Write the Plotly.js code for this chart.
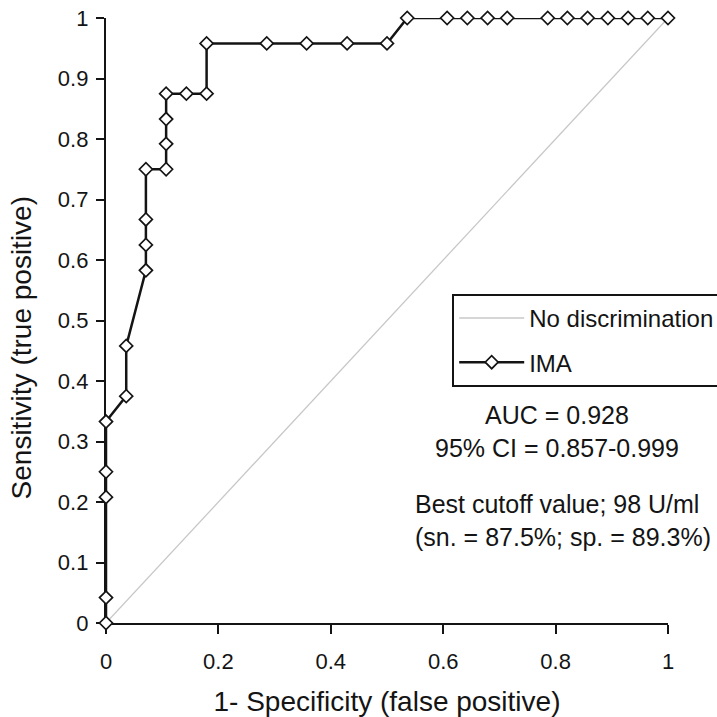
<!DOCTYPE html>
<html><head><meta charset="utf-8">
<script src="https://cdn.plot.ly/plotly-3.0.1.min.js"></script>
<style>html,body{margin:0;padding:0;background:#fff}#chart{width:717px;height:717px}</style>
</head><body><div id="chart"></div>
<script>
// ROC curve points for IMA (1 - specificity, sensitivity)
const fpr = [0,0,0,0,0,0.036,0.036,0.071,0.071,0.071,0.071,0.107,0.107,0.107,0.107,0.143,0.179,0.179,0.286,0.357,0.429,0.5,0.536,0.607,0.643,0.679,0.714,0.786,0.821,0.857,0.893,0.929,0.964,1];
const tpr = [0,0.042,0.208,0.25,0.333,0.375,0.458,0.583,0.625,0.667,0.75,0.75,0.792,0.833,0.875,0.875,0.875,0.958,0.958,0.958,0.958,0.958,1,1,1,1,1,1,1,1,1,1,1,1];
// reference line (no discrimination)
const refX = [0,1];
const refY = [0,1];
// ticks
const xTicks = [0,0.2,0.4,0.6,0.8,1];
const xTickLabels = ['0','0.2','0.4','0.6','0.8','1'];
const yTicks = [0,0.1,0.2,0.3,0.4,0.5,0.6,0.7,0.8,0.9,1];
const yTickLabels = ['0','0.1','0.2','0.3','0.4','0.5','0.6','0.7','0.8','0.9','1'];
const seriesNames = ['No discrimination','IMA'];
const xTitle = '1- Specificity (false positive)';
const yTitle = 'Sensitivity (true positive)';
const statsText = ['AUC = 0.928','95% CI = 0.857-0.999'];
const cutoffText = ['Best cutoff value; 98 U/ml','(sn. = 87.5%; sp. = 89.3%)'];

const FONT = '"Liberation Sans", Arial, sans-serif';
const INK = '#141414';

const traces = [
  {x: refX, y: refY, type: 'scatter', mode: 'lines', name: seriesNames[0],
   legendgroup: 'ref', line: {color: '#c8c8c8', width: 1.3}, cliponaxis: false, hoverinfo: 'skip'},
  {x: fpr, y: tpr, type: 'scatter', mode: 'lines+markers', name: seriesNames[1],
   legendgroup: 'ima', line: {color: INK, width: 2.5},
   marker: {symbol: 'diamond', size: 10, color: '#ffffff', line: {color: INK, width: 1.7}},
   cliponaxis: false}
];

const layout = {
  width: 717, height: 717,
  margin: {l: 106, r: 49, t: 18, b: 94, pad: 0, autoexpand: false},
  paper_bgcolor: '#fff', plot_bgcolor: '#fff',
  font: {family: FONT, color: INK},
  showlegend: true,
  legend: {x: 0.616, y: 0.544, xanchor: 'left', yanchor: 'top',
    bgcolor: '#fff', bordercolor: INK, borderwidth: 2,
    font: {family: FONT, size: 24, color: INK}, itemwidth: 65,
    traceorder: 'grouped', tracegroupgap: 10},
  xaxis: {range: [0, 1], tickvals: xTicks, ticktext: xTickLabels,
    showgrid: false, zeroline: false, showline: true, linecolor: INK, linewidth: 2.2,
    ticks: 'outside', ticklen: 9, tickwidth: 2, tickcolor: INK, ticklabelstandoff: 8,
    tickfont: {family: FONT, size: 22, color: INK}, layer: 'below traces',
    title: {text: xTitle, font: {family: FONT, size: 28, color: INK}}},
  yaxis: {range: [0, 1], tickvals: yTicks, ticktext: yTickLabels,
    showgrid: false, zeroline: false, showline: true, linecolor: INK, linewidth: 2.2,
    ticks: 'outside', ticklen: 8, tickwidth: 2, tickcolor: INK, ticklabelstandoff: 3,
    tickfont: {family: FONT, size: 22, color: INK}, layer: 'below traces',
    title: {text: yTitle + '&nbsp;&nbsp;&nbsp;&nbsp;&nbsp;&nbsp;&nbsp;', standoff: 18,
      font: {family: FONT, size: 28, color: INK}}},
  annotations: [
    {xref: 'x', yref: 'y', x: 0.8025, y: 0.316, text: statsText.join('<br>'),
     showarrow: false, align: 'center', xanchor: 'center', yanchor: 'middle',
     font: {family: FONT, size: 25, color: INK}},
    {xref: 'x', yref: 'y', x: 0.546, y: 0.170, text: cutoffText.join('<br>'),
     showarrow: false, align: 'left', xanchor: 'left', yanchor: 'middle',
     font: {family: FONT, size: 25, color: INK}}
  ]
};

Plotly.newPlot('chart', traces, layout, {displayModeBar: false, staticPlot: true});
</script>
</body></html>
